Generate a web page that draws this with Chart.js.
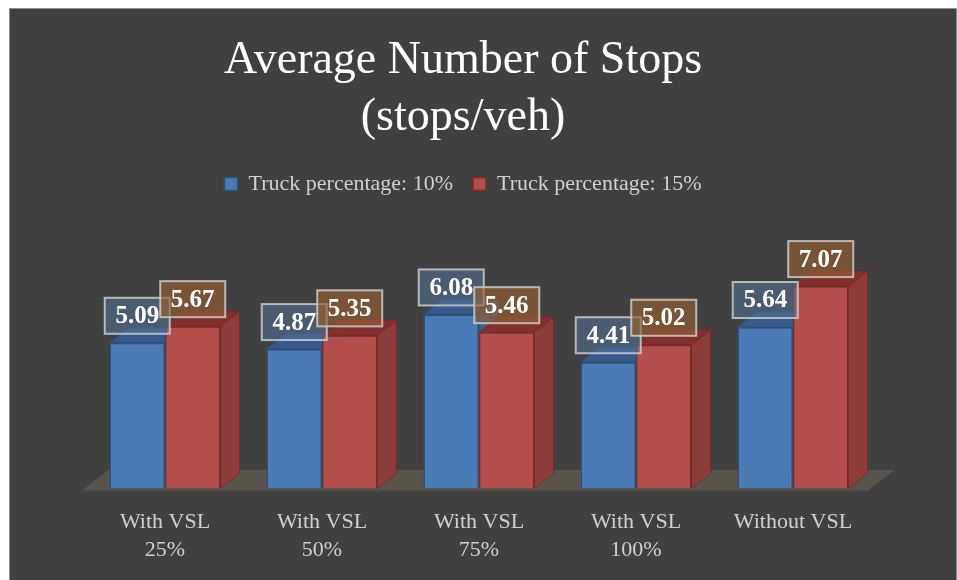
<!DOCTYPE html>
<html>
<head>
<meta charset="utf-8">
<script src="https://cdn.jsdelivr.net/npm/chart.js@4"></script>
<style>
  body { margin: 0; background: #ffffff; }
  #panel {
    position: absolute;
    left: 9px;
    top: 8px;
    width: 946px;
    height: 571px;
    border: 1px solid #8c8c8c;
    border-bottom: none;
    background: #404040;
  }
  canvas { display: block; }
</style>
</head>
<body>
<div id="panel"><canvas id="chart" width="946" height="571"></canvas></div>
<script>
const categories = [
  ["With VSL", "25%"],
  ["With VSL", "50%"],
  ["With VSL", "75%"],
  ["With VSL", "100%"],
  "Without VSL",
];
const truck10 = [5.09, 4.87, 6.08, 4.41, 5.64];
const truck15 = [5.67, 5.35, 5.46, 5.02, 7.07];
const seriesNames = ["Truck percentage: 10%", "Truck percentage: 15%"];

const serif = "'Liberation Serif', 'Times New Roman', serif";

// colors for front, side, top faces and label boxes
const faces = [
  { front: "#4b7bb6", border: "#2d4f7a", side: "#3b6394", top: "#35598a", box: "rgba(85, 120, 160, 0.5)" },
  { front: "#b34e4a", border: "#7a2b28", side: "#8c3d3b", top: "#822f2d", box: "rgba(150, 95, 50, 0.65)" },
];

const depthX = 19;
const depthY = 15;

// floor + side/top faces of the bars, drawn before the front faces
const threeD = {
  id: "threeD",
  beforeDatasetsDraw(chart) {
    const ctx = chart.ctx;
    const area = chart.chartArea;
    ctx.save();

    // floor slab
    const fl = area.left - 5;
    const fr = area.right - 4;
    const fb = area.bottom + 2.5;
    ctx.fillStyle = "#58544b";
    ctx.beginPath();
    ctx.moveTo(fl, fb);
    ctx.lineTo(fr, fb);
    ctx.lineTo(fr + 27, fb - 21);
    ctx.lineTo(fl + 27, fb - 21);
    ctx.closePath();
    ctx.fill();
    ctx.fillStyle = "#4a4740";
    ctx.fillRect(fl, fb - 1, fr - fl, 2);

    chart.data.datasets.forEach((ds, i) => {
      const meta = chart.getDatasetMeta(i);
      const f = faces[i];
      meta.data.forEach((bar) => {
        const p = bar.getProps(["x", "y", "base", "width"], true);
        const left = p.x - p.width / 2;
        const right = p.x + p.width / 2;

        ctx.lineWidth = 1;
        ctx.strokeStyle = f.border;

        // side face
        ctx.fillStyle = f.side;
        ctx.beginPath();
        ctx.moveTo(right, p.y);
        ctx.lineTo(right + depthX, p.y - depthY);
        ctx.lineTo(right + depthX, p.base - depthY);
        ctx.lineTo(right, p.base);
        ctx.closePath();
        ctx.fill();
        ctx.stroke();

        // top face
        ctx.fillStyle = f.top;
        ctx.beginPath();
        ctx.moveTo(left, p.y);
        ctx.lineTo(right, p.y);
        ctx.lineTo(right + depthX, p.y - depthY);
        ctx.lineTo(left + depthX, p.y - depthY);
        ctx.closePath();
        ctx.fill();
        ctx.stroke();
      });
    });
    ctx.restore();
  },
};

// value boxes above the bars
const valueBoxes = {
  id: "valueBoxes",
  afterDatasetsDraw(chart) {
    const ctx = chart.ctx;
    ctx.save();
    ctx.font = "bold 25px " + serif;
    ctx.textAlign = "center";
    ctx.textBaseline = "middle";
    chart.data.datasets.forEach((ds, i) => {
      const meta = chart.getDatasetMeta(i);
      meta.data.forEach((bar, j) => {
        const p = bar.getProps(["x", "y"], true);
        const w = 65;
        const h = 36;
        const bx = p.x - w / 2;
        const by = p.y - 9 - h;
        ctx.fillStyle = faces[i].box;
        ctx.fillRect(bx, by, w, h);
        ctx.strokeStyle = "rgba(205, 205, 205, 0.85)";
        ctx.lineWidth = 2;
        ctx.strokeRect(bx, by, w, h);
        ctx.fillStyle = "#ffffff";
        ctx.fillText(ds.data[j].toFixed(2), p.x, by + h / 2 + 1);
      });
    });
    ctx.restore();
  },
};

document.addEventListener("DOMContentLoaded", () => {
  const canvas = document.getElementById("chart");

  new Chart(canvas, {
    type: "bar",
    data: {
      labels: categories,
      datasets: [
        {
          label: seriesNames[0],
          data: truck10,
          backgroundColor: faces[0].front,
          borderColor: faces[0].border,
          borderWidth: 1.5,
        },
        {
          label: seriesNames[1],
          data: truck15,
          backgroundColor: faces[1].front,
          borderColor: faces[1].border,
          borderWidth: 1.5,
        },
      ],
    },
    options: {
      responsive: false,
      animation: false,
      barPercentage: 1,
      categoryPercentage: 0.707,
      layout: {
        padding: { left: 44.5, right: 84.5, top: 0, bottom: 0 },
      },
      scales: {
        x: {
          grid: { display: false, drawTicks: false },
          border: { display: false },
          ticks: {
            color: "#d0d0d0",
            padding: 20,
            font: { family: serif, size: 22, lineHeight: 1.27 },
          },
          afterFit: (axis) => {
            axis.height = 91.5;
          },
        },
        y: {
          min: 0,
          max: 9.9,
          grid: { display: false, drawTicks: false },
          border: { display: false },
          ticks: { display: false },
          afterFit: (axis) => {
            axis.width = 32;
          },
        },
      },
      plugins: {
        title: {
          display: true,
          text: ["Average Number of Stops", "(stops/veh)"],
          color: "#ffffff",
          font: { family: serif, size: 46, weight: "normal", lineHeight: 1.24 },
          padding: { top: 23, bottom: 7 },
        },
        legend: {
          display: true,
          position: "top",
          labels: {
            color: "#d0d0d0",
            boxWidth: 13,
            boxHeight: 13,
            padding: 20,
            font: { family: serif, size: 22 },
          },
        },
        tooltip: { enabled: false },
      },
    },
    plugins: [threeD, valueBoxes],
  });
});
</script>
</body>
</html>
